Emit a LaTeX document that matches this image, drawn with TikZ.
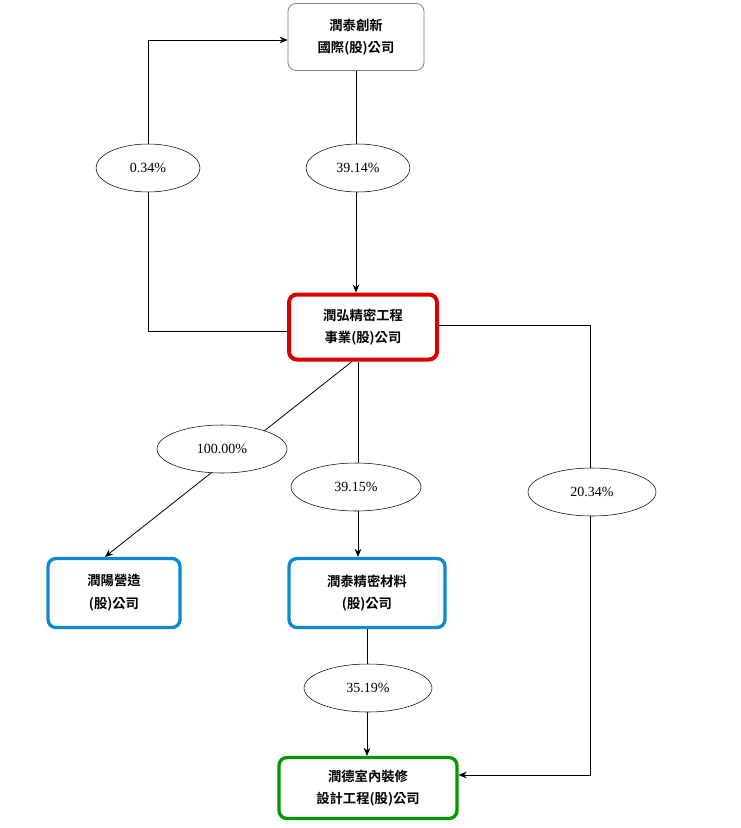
\documentclass[tikz,border=0pt]{standalone}
\usepackage{fontspec}
\newfontfamily\cjk{Noto Sans CJK TC}[BoldFont=* Bold]
\newfontfamily\pctf{Liberation Serif}
\usetikzlibrary{shapes.geometric,arrows.meta}
\begin{document}
\begin{tikzpicture}[x=0.75pt,y=-0.75pt,
  box/.style={draw,rounded corners=6pt,align=center,font=\cjk\bfseries\fontsize{10}{17}\selectfont,inner sep=0pt},
  pct/.style={draw,ellipse,fill=white,font=\pctf\fontsize{10.5}{12}\selectfont,inner sep=0pt},
  arr/.style={-{Stealth[length=6pt,width=5pt]},line width=0.6pt},
  ln/.style={line width=0.6pt}]
\useasboundingbox (0,0) rectangle (740,828);
\node[box,draw=gray,line width=0.6pt,minimum width=136*0.75pt,minimum height=67*0.75pt] (top) at (356,37) {潤泰創新\\國際(股)公司};
\node[box,draw=red!85!black,line width=3pt,minimum width=148*0.75pt,minimum height=65*0.75pt] (mid) at (363,327) {潤弘精密工程\\事業(股)公司};
\node[box,draw=cyan!70!blue,line width=2.5pt,minimum width=132*0.75pt,minimum height=69*0.75pt] (lb) at (114,593) {潤陽營造\\(股)公司};
\node[box,draw=cyan!70!blue,line width=2.5pt,minimum width=156*0.75pt,minimum height=69*0.75pt] (mb) at (367,593) {潤泰精密材料\\(股)公司};
\node[box,draw=green!60!black,line width=2.5pt,minimum width=178*0.75pt,minimum height=61*0.75pt] (gb) at (368,788) {潤德室內裝修\\設計工程(股)公司};
\coordinate (c1) at (148,331); \coordinate (c2) at (148,40);
\draw[arr] (mid.west |- c1) -- (c1) -- (c2) -- (top.west |- c2);
\draw[arr] (top.south -| 356,0) -- (mid.north -| 356,0);
\draw[arr] (mid.south -| 352,0) -- (lb.north -| 105,0);
\draw[arr] (mid.south -| 358,0) -- (mb.north -| 358,0);
\coordinate (d1) at (590,325); \coordinate (d2) at (590,775);
\draw[arr] (mid.east |- d1) -- (d1) -- (d2) -- (gb.east |- d2);
\draw[arr] (mb.south -| 367,0) -- (gb.north -| 367,0);
\node[pct,minimum width=104*0.75pt,minimum height=48*0.75pt] (p1) at (148,168) {0.34\%};
\node[pct,minimum width=104*0.75pt,minimum height=48*0.75pt] (p2) at (358,168) {39.14\%};
\node[pct,minimum width=130*0.75pt,minimum height=48*0.75pt] (p3) at (222,449) {100.00\%};
\node[pct,minimum width=130*0.75pt,minimum height=48*0.75pt] (p4) at (356,487) {39.15\%};
\node[pct,minimum width=128*0.75pt,minimum height=48*0.75pt] (p5) at (592,492) {20.34\%};
\node[pct,minimum width=128*0.75pt,minimum height=48*0.75pt] (p6) at (368,688) {35.19\%};
\end{tikzpicture}
\end{document}
